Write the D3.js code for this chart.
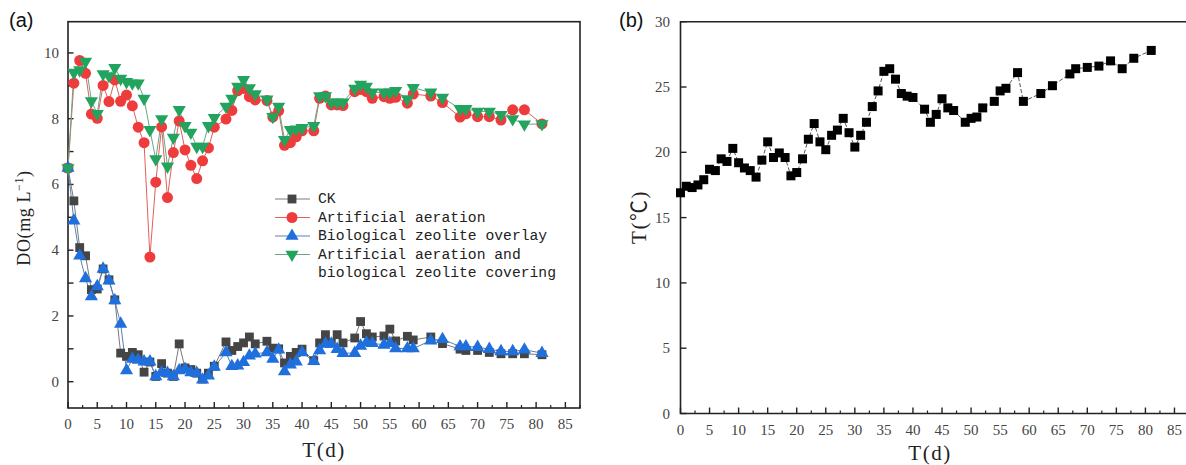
<!DOCTYPE html>
<html>
<head>
<meta charset="utf-8">
<script src="https://cdn.jsdelivr.net/npm/d3@7"></script>
<style>
  body { margin: 0; background: #fff; }
  svg { display: block; }
  .tick-label { font-family: "Liberation Serif", serif; font-size: 15px; fill: #444; }
  .axis-title { font-family: "Liberation Serif", "Noto Sans CJK SC", serif; font-size: 21px; fill: #222; letter-spacing: 1.5px; }
  .legend-text { font-family: "Liberation Mono", monospace; font-size: 14.7px; fill: #222; }
  .panel-label { font-family: "Liberation Sans", Arial, sans-serif; font-size: 20px; fill: #111; }
</style>
</head>
<body>
<script>
// days of DO sampling (panel a)
var daysDO = [0,1,2,3,4,5,6,7,8,9,10,11,12,13,14,15,16,17,18,19,20,21,22,23,24,25,
  27,28,29,30,31,32,34,35,36,37,38,39,40,42,43,44,45,46,47,49,50,51,52,54,55,56,
  58,59,62,64,67,68,70,72,74,76,78,81];

var doCK = [6.5,5.5,4.08,3.83,2.8,2.82,3.43,3.1,2.49,0.87,0.77,0.89,0.82,0.29,0.6,0.16,0.55,0.26,0.16,1.15,0.42,0.37,0.26,0.08,0.26,0.47,
  1.21,0.95,1.07,1.18,1.36,1.15,1.23,1.02,1.0,0.57,0.77,0.89,0.99,0.64,1.18,1.43,1.18,1.43,1.18,1.33,1.83,1.46,1.36,1.39,1.6,1.24,
  1.38,1.27,1.36,1.16,0.99,0.95,0.95,0.89,0.85,0.85,0.85,0.82];

var doAeration = [6.5,9.08,9.77,9.38,8.14,8.01,9.01,8.52,9.18,8.53,8.72,8.39,7.74,7.27,3.79,6.07,7.75,5.6,6.97,7.93,7.05,6.58,6.18,6.72,7.11,7.74,
  7.99,8.25,8.85,8.92,8.67,8.57,8.55,8.05,8.24,7.19,7.27,7.45,7.63,7.63,8.62,8.69,8.42,8.42,8.4,8.82,8.89,8.82,8.62,8.67,8.62,8.65,
  8.47,8.75,8.69,8.49,8.05,8.15,8.06,8.06,7.96,8.27,8.27,7.84];

var doZeolite = [6.5,4.9,3.83,3.14,2.59,2.9,3.43,3.07,2.47,1.76,0.34,0.69,0.66,0.61,0.61,0.16,0.28,0.26,0.16,0.34,0.38,0.28,0.26,0.06,0.18,0.45,
  0.89,0.47,0.49,0.59,0.79,0.85,0.89,0.69,0.97,0.31,0.52,0.61,0.89,0.62,0.95,1.15,1.15,0.99,0.87,0.87,1.09,1.19,1.17,1.12,1.17,1.01,
  1.01,1.01,1.25,1.29,1.07,1.07,1.05,0.99,0.92,0.92,0.97,0.87];

var doBoth = [6.5,9.4,9.48,9.74,8.54,8.15,9.36,9.3,9.55,9.22,9.12,9.08,9.08,8.61,7.66,6.77,7.99,6.55,7.43,8.27,7.78,7.58,7.15,7.15,7.78,8.03,
  8.37,8.61,8.98,9.18,8.93,8.75,8.59,8.06,8.37,7.36,7.66,7.68,7.72,7.78,8.69,8.69,8.5,8.5,8.5,8.92,9.04,8.98,8.8,8.8,8.8,8.85,
  8.6,8.94,8.8,8.64,8.3,8.3,8.22,8.22,8.12,7.99,7.83,7.84];

var seriesNames = ["CK", "Artificial aeration", "Biological zeolite overlay",
  "Artificial aeration and", "biological zeolite covering"];

// water temperature (panel b)
var daysT = [0,1,2,3,4,5,6,7,8,9,10,11,12,13,14,15,16,17,18,19,20,21,22,23,24,25,26,27,28,29,30,
  31,32,33,34,35,36,37,38,39,40,42,43,44,45,46,47,49,50,51,52,54,55,56,58,59,62,64,67,68,70,72,74,76,78,81];
var temp = [16.9,17.4,17.3,17.5,17.9,18.7,18.6,19.5,19.3,20.3,19.2,18.8,18.6,18.1,19.4,20.8,19.6,19.95,19.6,18.2,18.45,
  19.5,21.0,22.2,20.8,20.2,21.3,21.7,22.6,21.5,20.4,21.3,22.3,23.5,24.7,26.2,26.4,25.6,24.5,24.3,24.2,
  23.3,22.3,22.9,24.1,23.4,23.2,22.3,22.6,22.7,23.4,23.9,24.7,24.9,26.1,23.9,24.5,25.1,26.0,26.4,26.5,26.6,27.0,26.4,27.2,27.8];

var xTicks = d3.range(0, 90, 5);
var xMinor = d3.range(2.5, 88, 5);

var width = 1186, height = 465;
var svg = d3.select("body").append("svg")
  .attr("width", width)
  .attr("height", height);

// ---------- panel (a) ----------
var xa = d3.scaleLinear().domain([0, 87.5]).range([68, 580]);
var ya = d3.scaleLinear().domain([-0.8, 10.95]).range([408, 21.7]);

var ga = svg.append("g");

ga.append("rect")
  .attr("x", xa(0)).attr("y", ya(10.95))
  .attr("width", xa(87.5) - xa(0)).attr("height", ya(-0.8) - ya(10.95))
  .attr("fill", "none").attr("stroke", "#222").attr("stroke-width", 1.6);

function xTicksDraw(g, x, y0, labelY) {
  g.selectAll(".xt").data(xTicks).enter().append("line")
    .attr("x1", function(d){ return x(d); }).attr("x2", function(d){ return x(d); })
    .attr("y1", y0).attr("y2", y0 - 6)
    .attr("stroke", "#222").attr("stroke-width", 1.4);
  g.selectAll(".xm").data(xMinor).enter().append("line")
    .attr("x1", function(d){ return x(d); }).attr("x2", function(d){ return x(d); })
    .attr("y1", y0).attr("y2", y0 - 3)
    .attr("stroke", "#222").attr("stroke-width", 1.2);
  g.selectAll(".xl").data(xTicks).enter().append("text")
    .attr("class", "tick-label")
    .attr("x", function(d){ return x(d); })
    .attr("y", labelY)
    .attr("text-anchor", "middle")
    .text(function(d){ return d; });
}

xTicksDraw(ga, xa, 408, 429);

// y ticks (a)
ga.selectAll(".yt").data(d3.range(0, 11, 1)).enter().append("line")
  .attr("x1", 68).attr("x2", 73.5)
  .attr("y1", function(d){ return ya(d); }).attr("y2", function(d){ return ya(d); })
  .attr("stroke", "#222").attr("stroke-width", 1.4);
ga.selectAll(".yl").data(d3.range(0, 11, 2)).enter().append("text")
  .attr("class", "tick-label")
  .attr("x", 59).attr("y", function(d){ return ya(d) + 5; })
  .attr("text-anchor", "end")
  .text(function(d){ return d; });

ga.append("text").attr("class", "axis-title")
  .attr("x", 324).attr("y", 457).attr("text-anchor", "middle")
  .text("T(d)");

ga.append("text").attr("class", "axis-title")
  .attr("transform", "translate(30,218) rotate(-90)")
  .attr("text-anchor", "middle")
  .style("font-size", "18px")
  .style("letter-spacing", "0.6px")
  .html('DO(mg L<tspan dy="-7" font-size="12">−1</tspan><tspan dy="7">)</tspan>');

ga.append("text").attr("class", "panel-label").attr("x", 9).attr("y", 27).text("(a)");

var styles = [
  { data: doCK, line: "#7a7a7a", fill: "#454545", sym: d3.symbolSquare, size: 78, rot: 0 },
  { data: doAeration, line: "#e0605a", fill: "#ee3b3b", sym: d3.symbolCircle, size: 95, rot: 0 },
  { data: doZeolite, line: "#5a7fb8", fill: "#1f6fdc", sym: d3.symbolTriangle, size: 75, rot: 0 },
  { data: doBoth, line: "#6aa58a", fill: "#22a45e", sym: d3.symbolTriangle, size: 75, rot: 180 }
];

var line = d3.line()
  .x(function(d, i){ return xa(daysDO[i]); })
  .y(function(d){ return ya(d); });

styles.forEach(function(s) {
  ga.append("path")
    .attr("d", line(s.data))
    .attr("fill", "none")
    .attr("stroke", s.line)
    .attr("stroke-width", 1);
});
styles.forEach(function(s) {
  ga.selectAll(null).data(s.data).enter().append("path")
    .attr("d", d3.symbol().type(s.sym).size(s.size))
    .attr("transform", function(d, i){
      return "translate(" + xa(daysDO[i]) + "," + ya(d) + ") rotate(" + s.rot + ")";
    })
    .attr("fill", s.fill);
});

// legend
var legY = [199, 217.5, 236, 254.5];
styles.forEach(function(s, i) {
  ga.append("line")
    .attr("x1", 275).attr("x2", 310)
    .attr("y1", legY[i]).attr("y2", legY[i])
    .attr("stroke", s.line).attr("stroke-width", 1);
  ga.append("path")
    .attr("d", d3.symbol().type(s.sym).size(s.size))
    .attr("transform", "translate(292," + legY[i] + ") rotate(" + s.rot + ")")
    .attr("fill", s.fill);
});
seriesNames.forEach(function(n, i) {
  ga.append("text").attr("class", "legend-text")
    .attr("x", 318).attr("y", 198 + i * 18.6 + 5)
    .text(n);
});

// ---------- panel (b) ----------
var xb = d3.scaleLinear().domain([0, 87.5]).range([680.5, 1189]);
var yb = d3.scaleLinear().domain([0, 30]).range([413.5, 21.7]);

var gb = svg.append("g");

gb.append("path")
  .attr("d", "M" + (width + 2) + "," + yb(30) + "H" + xb(0) + "V" + yb(0) + "H" + (width + 2))
  .attr("fill", "none").attr("stroke", "#222").attr("stroke-width", 1.6);

xTicksDraw(gb, xb, 413.5, 435);

gb.selectAll(".yt").data(d3.range(0, 31, 5)).enter().append("line")
  .attr("x1", xb(0)).attr("x2", xb(0) + 6)
  .attr("y1", function(d){ return yb(d); }).attr("y2", function(d){ return yb(d); })
  .attr("stroke", "#222").attr("stroke-width", 1.4);
gb.selectAll(".yl").data(d3.range(0, 31, 5)).enter().append("text")
  .attr("class", "tick-label")
  .attr("x", 670).attr("y", function(d){ return yb(d) + 5; })
  .attr("text-anchor", "end")
  .text(function(d){ return d; });

gb.append("text").attr("class", "axis-title")
  .attr("x", 930).attr("y", 460).attr("text-anchor", "middle")
  .text("T(d)");

gb.append("text").attr("class", "axis-title")
  .attr("transform", "translate(646,217) rotate(-90)")
  .attr("text-anchor", "middle")
  .text("T(℃)");

gb.append("text").attr("class", "panel-label").attr("x", 619).attr("y", 27).text("(b)");

var lineT = d3.line()
  .x(function(d, i){ return xb(daysT[i]); })
  .y(function(d){ return yb(d); });

gb.append("path")
  .attr("d", lineT(temp))
  .attr("fill", "none")
  .attr("stroke", "#555")
  .attr("stroke-width", 1)
  .attr("stroke-dasharray", "4,2");

gb.selectAll(null).data(temp).enter().append("rect")
  .attr("x", function(d, i){ return xb(daysT[i]) - 4.5; })
  .attr("y", function(d){ return yb(d) - 4.5; })
  .attr("width", 9).attr("height", 9)
  .attr("fill", "#000");
</script>
</body>
</html>
